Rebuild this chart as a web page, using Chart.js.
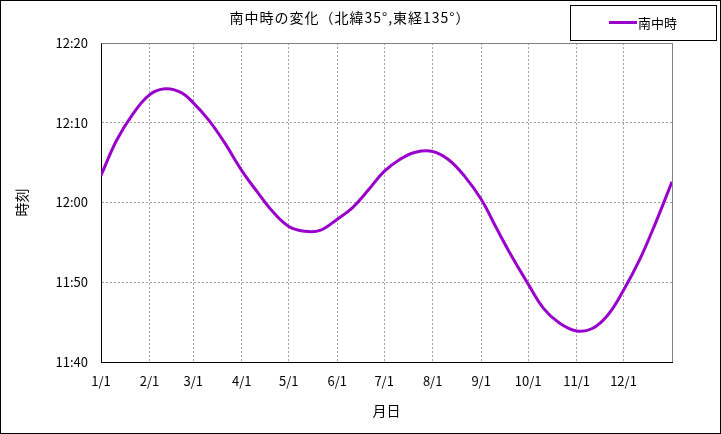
<!DOCTYPE html>
<html lang="ja">
<head>
<meta charset="UTF-8">
<title>南中時の変化</title>
<script src="https://cdn.jsdelivr.net/npm/chart.js"></script>
<style>
    body { margin: 0; background: #ffffff; }
    canvas { display: block; }
</style>
</head>
<body>
<canvas id="transitChart" width="721" height="434"></canvas>
<script>
// day of year (1/1 = 0; the 1st, 11th and 21st of each month) and minutes after 12:00
const dayOfYear = [0, 10, 20, 31, 41, 51, 59, 69, 79, 90, 100, 110, 120, 130, 140, 151, 161, 171,
                   181, 191, 201, 212, 222, 232, 243, 253, 263, 273, 283, 293, 304, 314, 324, 334, 344, 354, 365];
const minutesAfterNoon = [3.4, 7.8, 11.0, 13.5, 14.25, 13.8, 12.5, 10.3, 7.5, 4.0, 1.3, -1.2, -3.0, -3.6, -3.5, -2.1, -0.6, 1.6,
                          3.9, 5.4, 6.3, 6.4, 5.4, 3.4, 0.4, -3.3, -6.9, -10.2, -13.3, -15.1, -16.1, -15.8, -14.1, -11.0, -7.3, -2.8, 2.6];

// x ticks: first day of each month
const monthStarts = [0, 31, 59, 90, 120, 151, 181, 212, 243, 273, 304, 334, 365];
const monthLabels = ['1/1', '2/1', '3/1', '4/1', '5/1', '6/1', '7/1', '8/1', '9/1', '10/1', '11/1', '12/1', ''];

// y ticks, minutes since midnight
const timeTicks = [700, 710, 720, 730, 740];
const timeLabels = ['11:40', '11:50', '12:00', '12:10', '12:20'];

const seriesName = '南中時';
const chartTitle = '南中時の変化（北緯35°,東経135°）';
const lineColor = '#9900cc';
const fontFamily = "'Noto Sans CJK JP', 'Noto Sans', sans-serif";

const points = dayOfYear.map((d, i) => ({ x: d, y: 720 + minutesAfterNoon[i] }));

// title, legend box, plot frame and outer border
const framePlugin = {
    id: 'frame',
    afterDraw(chart) {
        const ctx = chart.ctx;
        const area = chart.chartArea;
        ctx.save();

        // gray top and right edge of the plot
        ctx.strokeStyle = '#808080';
        ctx.lineWidth = 1;
        ctx.beginPath();
        ctx.moveTo(Math.round(area.left) + 0.5, Math.round(area.top) + 0.5);
        ctx.lineTo(Math.round(area.right) + 0.5, Math.round(area.top) + 0.5);
        ctx.lineTo(Math.round(area.right) + 0.5, Math.round(area.bottom));
        ctx.stroke();

        // outer border
        ctx.strokeStyle = '#000000';
        ctx.strokeRect(0.5, 0.5, chart.width - 1, chart.height - 1);

        // title
        ctx.fillStyle = '#000000';
        ctx.font = '14px ' + fontFamily;
        ctx.letterSpacing = '1px';
        ctx.textAlign = 'center';
        ctx.textBaseline = 'middle';
        ctx.fillText(chartTitle, 350, 18);
        ctx.letterSpacing = '0px';

        // legend box
        ctx.strokeRect(570.5, 5.5, 146, 35);
        ctx.strokeStyle = lineColor;
        ctx.lineWidth = 3;
        ctx.beginPath();
        ctx.moveTo(609, 22.5);
        ctx.lineTo(637, 22.5);
        ctx.stroke();
        ctx.font = '13px ' + fontFamily;
        ctx.textAlign = 'left';
        ctx.fillText(seriesName, 638, 23);

        ctx.restore();
    }
};

const ctx = document.getElementById('transitChart').getContext('2d');
const transitChart = new Chart(ctx, {
    type: 'line',
    data: {
        datasets: [{
            label: seriesName,
            data: points,
            borderColor: lineColor,
            borderWidth: 3,
            pointRadius: 0,
            fill: false,
            tension: 0.4
        }]
    },
    options: {
        responsive: false,
        animation: false,
        layout: { padding: { top: 43, right: 49, left: 0, bottom: 0 } },
        plugins: {
            legend: { display: false },
            tooltip: { enabled: false }
        },
        scales: {
            x: {
                type: 'linear',
                min: 0,
                max: 365,
                afterFit(scale) { scale.height = 72; },
                afterBuildTicks(scale) { scale.ticks = monthStarts.map(v => ({ value: v })); },
                ticks: {
                    padding: 11,
                    color: '#000000',
                    font: { family: fontFamily, size: 13 },
                    maxRotation: 0,
                    autoSkip: false,
                    callback: (v) => monthLabels[monthStarts.indexOf(v)]
                },
                grid: {
                    color: '#a0a0a0',
                    drawTicks: false
                },
                border: { color: '#000000', dash: [2, 2] },
                title: {
                    display: true,
                    text: '月日',
                    color: '#000000',
                    font: { family: fontFamily, size: 14 },
                    padding: { top: 0, bottom: 15 }
                }
            },
            y: {
                min: 700,
                max: 740,
                afterFit(scale) { scale.width = 101; },
                afterBuildTicks(scale) { scale.ticks = timeTicks.map(v => ({ value: v })); },
                ticks: {
                    padding: 13,
                    color: '#000000',
                    font: { family: fontFamily, size: 13 },
                    callback: (v) => timeLabels[timeTicks.indexOf(v)]
                },
                grid: {
                    color: '#a0a0a0',
                    drawTicks: false
                },
                border: { color: '#000000', dash: [2, 2] },
                title: {
                    display: true,
                    text: '時刻',
                    color: '#000000',
                    font: { family: fontFamily, size: 14 },
                    padding: { top: 13, bottom: 0 }
                }
            }
        }
    },
    plugins: [framePlugin]
});
</script>
</body>
</html>
